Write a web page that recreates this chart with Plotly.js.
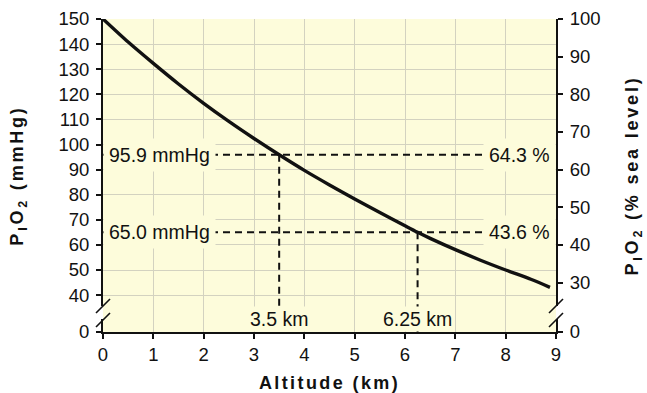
<!DOCTYPE html>
<html>
<head>
<meta charset="utf-8">
<script src="https://cdn.plot.ly/plotly-3.0.1.min.js"></script>
<style>
html, body { margin: 0; padding: 0; background: #ffffff; }
#chart { width: 647px; height: 393px; }
.xtitle { letter-spacing: 2.4px; }
.ytitle, .y2title { letter-spacing: 2.8px; }
</style>
</head>
<body>
<div id="chart"></div>
<script>
// ---- data ----
const altitudeKm = [0, 0.5, 1, 1.5, 2, 2.5, 3, 3.5, 4, 4.5, 5, 5.5, 6, 6.25, 6.5, 7, 7.5, 8, 8.5, 8.88];
const pio2mmHg   = [150.0, 140.8, 132.3, 124.1, 116.4, 109.2, 102.4, 95.9, 89.7, 83.9, 78.3, 72.9, 67.6, 65.0, 62.6, 58.1, 53.9, 50.0, 46.3, 43.1];

const refAltitudeKm      = [3.5, 6.25];
const refPio2mmHg        = [95.9, 65.0];
const refPercentSeaLevel = [64.3, 43.6];

const xTickValues   = [0, 1, 2, 3, 4, 5, 6, 7, 8, 9];
const leftTickValues  = [40, 50, 60, 70, 80, 90, 100, 110, 120, 130, 140, 150];
const rightTickValues = [30, 40, 50, 60, 70, 80, 90, 100];

const SEA_LEVEL_PIO2 = 150;   // 100 % of sea level
const AXIS_BREAK = 25.3;      // axis position carrying the "0" label below the break
const X_RANGE = [0, 9];

// ---- styling ----
const PLOT_BG = '#fdfcdb';
const GRID = '#d3d2c0';
const INK = '#111111';
const FONT = 'Liberation Sans, Arial, Helvetica, sans-serif';

// dashed guide lines built from the reference values
const guideX = [], guideY = [];
for (let i = 0; i < refAltitudeKm.length; i++) {
  guideX.push(X_RANGE[0], X_RANGE[1], null, refAltitudeKm[i], refAltitudeKm[i], null);
  guideY.push(refPio2mmHg[i], refPio2mmHg[i], null, refPio2mmHg[i], AXIS_BREAK, null);
}

const traces = [
  {
    x: guideX, y: guideY, type: 'scatter', mode: 'lines',
    line: { color: INK, width: 2, dash: '7px,5px' },
    hoverinfo: 'skip', showlegend: false
  },
  {
    x: altitudeKm, y: pio2mmHg, type: 'scatter', mode: 'lines',
    line: { color: INK, width: 3.4, shape: 'spline', smoothing: 0.8 },
    showlegend: false
  },
  {
    x: altitudeKm, y: pio2mmHg, yaxis: 'y2', type: 'scatter', mode: 'lines',
    line: { color: 'rgba(0,0,0,0)', width: 0 }, hoverinfo: 'skip', showlegend: false
  }
];

const annotations = [];
for (let i = 0; i < refAltitudeKm.length; i++) {
  annotations.push({
    xref: 'paper', x: 0, xanchor: 'left', xshift: 0,
    yref: 'y', y: refPio2mmHg[i], yanchor: 'middle',
    text: refPio2mmHg[i].toFixed(1) + ' mmHg', showarrow: false,
    font: { family: FONT, size: 19.5, color: INK },
    bgcolor: PLOT_BG, borderpad: 5
  });
  annotations.push({
    xref: 'paper', x: 1, xanchor: 'right', xshift: 0,
    yref: 'y', y: refPio2mmHg[i], yanchor: 'middle',
    text: refPercentSeaLevel[i].toFixed(1) + ' %', showarrow: false,
    font: { family: FONT, size: 19.5, color: INK },
    bgcolor: PLOT_BG, borderpad: 5
  });
  annotations.push({
    xref: 'x', x: refAltitudeKm[i], xanchor: 'center',
    yref: 'paper', y: 0, yanchor: 'bottom', yshift: 0,
    text: refAltitudeKm[i] + ' km', showarrow: false,
    font: { family: FONT, size: 19.5, color: INK },
    bgcolor: PLOT_BG, borderpad: 1
  });
}

// axis-break marks (decoration)
const shapes = [];
[[0, -3, 0], [1, 0, 3]].forEach(([side, c0, c1]) => {
  shapes.push({
    type: 'rect', layer: 'above', xref: 'paper', yref: 'paper',
    xsizemode: 'pixel', xanchor: side, x0: c0, x1: c1,
    ysizemode: 'pixel', yanchor: 0, y0: 13, y1: 26,
    fillcolor: '#ffffff', line: { width: 0 }
  });
  [12, 26].forEach(cy => {
    shapes.push({
      type: 'line', layer: 'above', xref: 'paper', yref: 'paper',
      xsizemode: 'pixel', xanchor: side, x0: -7, x1: 7,
      ysizemode: 'pixel', yanchor: 0, y0: cy - 7, y1: cy + 7,
      line: { color: INK, width: 1.6 }
    });
  });
});

const tickFont = { family: FONT, size: 18.5, color: INK };
const titleFont = { family: FONT, size: 18, color: INK, weight: 'bold' };

const layout = {
  width: 647, height: 393,
  margin: { l: 103, r: 91, t: 19, b: 61, pad: 0 },
  paper_bgcolor: '#ffffff',
  plot_bgcolor: PLOT_BG,
  showlegend: false,
  xaxis: {
    range: X_RANGE, tickvals: xTickValues, ticktext: xTickValues.map(String),
    showgrid: true, gridcolor: GRID, gridwidth: 1, zeroline: false,
    showline: true, linecolor: INK, linewidth: 2,
    ticks: 'outside', ticklen: 5, tickwidth: 2, tickcolor: INK,
    tickfont: tickFont,
    title: { text: 'Altitude (km)', font: titleFont, standoff: 12 },
    fixedrange: true
  },
  yaxis: {
    range: [AXIS_BREAK, SEA_LEVEL_PIO2],
    tickvals: [AXIS_BREAK].concat(leftTickValues),
    ticktext: ['0'].concat(leftTickValues.map(String)),
    showgrid: true, gridcolor: GRID, gridwidth: 1, zeroline: false,
    showline: true, linecolor: INK, linewidth: 2,
    ticks: 'outside', ticklen: 5, tickwidth: 2, tickcolor: INK,
    ticklabelstandoff: 3,
    tickfont: tickFont,
    title: { text: 'P<sub>I</sub>O<sub>2</sub> (mmHg)', font: titleFont, standoff: 30 },
    fixedrange: true
  },
  yaxis2: {
    overlaying: 'y', side: 'right',
    range: [AXIS_BREAK, SEA_LEVEL_PIO2],
    tickvals: [AXIS_BREAK].concat(rightTickValues.map(p => p * SEA_LEVEL_PIO2 / 100)),
    ticktext: ['0'].concat(rightTickValues.map(String)),
    showgrid: false, zeroline: false,
    showline: true, linecolor: INK, linewidth: 2,
    ticks: 'outside', ticklen: 5, tickwidth: 2, tickcolor: INK,
    ticklabelstandoff: 3,
    tickfont: tickFont,
    title: { text: 'P<sub>I</sub>O<sub>2</sub> (% sea level)', font: titleFont, standoff: 26 },
    fixedrange: true
  },
  annotations: annotations,
  shapes: shapes
};

Plotly.newPlot('chart', traces, layout, { displayModeBar: false, staticPlot: true });
</script>
</body>
</html>
